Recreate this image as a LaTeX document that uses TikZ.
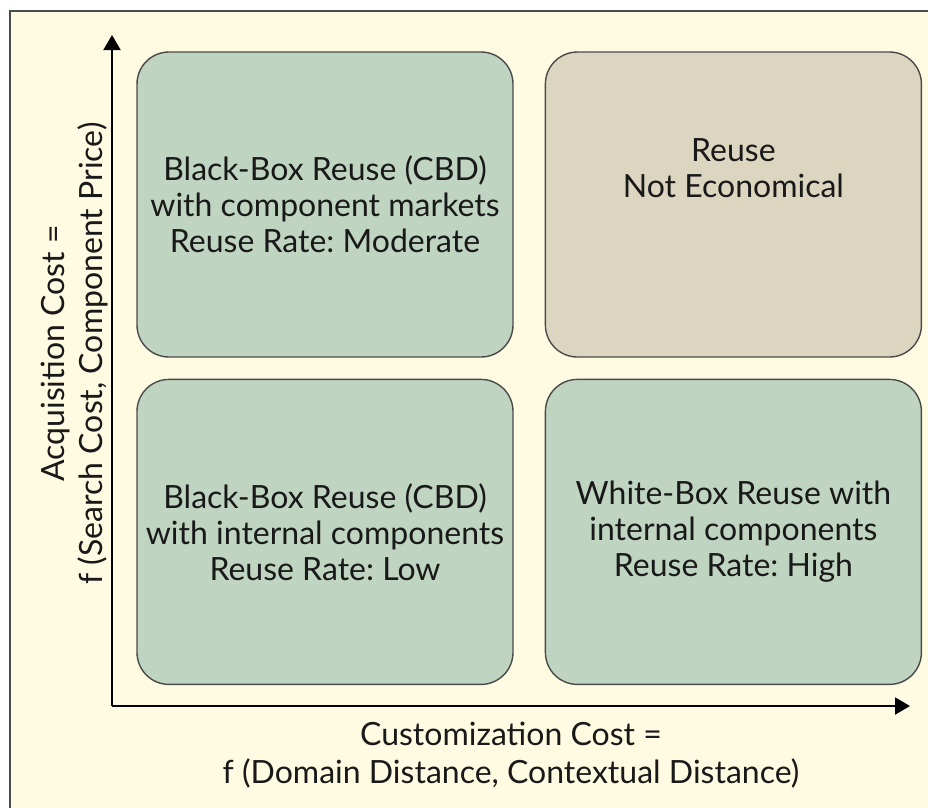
\documentclass[tikz,border=0pt]{standalone}
\usepackage{fontspec}
\setmainfont{Lato}
\usetikzlibrary{arrows.meta,positioning}

\definecolor{cream}{HTML}{FFFBE2}
\definecolor{boxgreen}{HTML}{BFD4C1}
\definecolor{boxtan}{HTML}{DCD5C0}
\definecolor{edgegray}{HTML}{4A4A4A}
\frenchspacing

\begin{document}
\begin{tikzpicture}[
        x=1pt, y=-1pt,
        node distance=21pt and 31pt,
        quad/.style={draw=edgegray, line width=1.4pt, rounded corners=32pt, fill=boxgreen, minimum width=376pt, minimum height=305pt, align=center, font=\fontsize{32}{36}\selectfont, text=black!90},
        axislabel/.style={align=center, font=\fontsize{32}{38}\selectfont, text=black!90},
        axis/.style={line width=2pt, -{Triangle[length=15pt,width=17pt]}},
    ]
        \useasboundingbox (0,0) rectangle (928,807);
        \draw[edgegray, line width=2.5pt, fill=cream] (10,11) rectangle (940,820);

        \node[quad] (nw) at (325,204.5) {Black-Box Reuse (CBD)\\with component markets\\Reuse Rate: Moderate};
        \node[quad, fill=boxtan, right=of nw] (ne) {Reuse\\Not Economical\\[36pt]};
        \node[quad, below=of nw] (sw) {Black-Box Reuse (CBD)\\with internal components\\Reuse Rate: Low};
        \node[quad, below=of ne] (se) {White-Box Reuse with\\internal components\\Reuse Rate: High};

        \coordinate (origin) at (112,706);
        \coordinate (ytip) at (112,35);
        \coordinate (xtip) at (910,706);
        \draw[axis] (origin) -- (ytip) node[midway, axislabel, rotate=90, above=17pt] {Acquisition Cost =\\f (Search Cost, Component Price)};
        \draw[axis] (origin) -- (xtip) node[midway, axislabel, below=12pt] {Customization Cost =\\f (Domain Distance, Contextual Distance)};
\end{tikzpicture}
\end{document}
